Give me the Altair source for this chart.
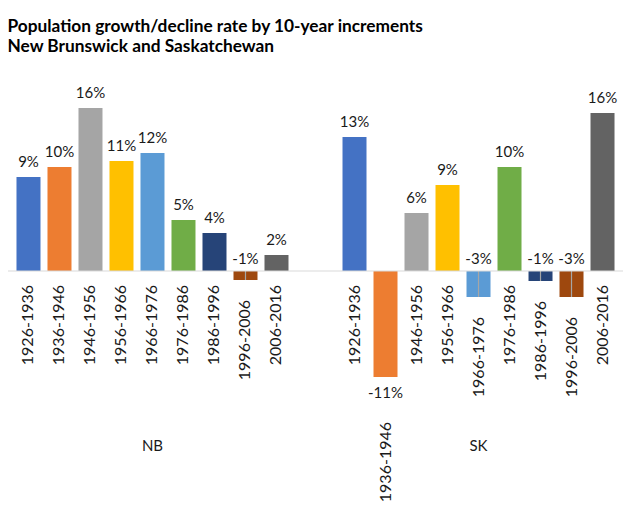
import altair as alt
import pandas as pd

periods = ["1926-1936", "1936-1946", "1946-1956", "1956-1966", "1966-1976",
           "1976-1986", "1986-1996", "1996-2006", "2006-2016"]
provinces = ["NB", "SK"]
nb_values = [9.4, 10.4, 16.3, 11.0, 11.8, 5.1, 3.8, -0.9, 1.6]
sk_values = [13.4, -10.6, 5.8, 8.6, -2.6, 10.4, -1.0, -2.6, 15.8]
colors = ["#4472C4", "#ED7D31", "#A5A5A5", "#FFC000", "#5B9BD5",
          "#70AD47", "#264478", "#9E480E", "#636363"]

rows = []
for p, vals in zip(provinces, [nb_values, sk_values]):
    for per, v in zip(periods, vals):
        rows.append({"prov": p, "period": per, "v": v})
df = pd.DataFrame(rows)

FONT = "Lato"
TXT = "#1a1a1a"

x = alt.X("prov:N", sort=provinces,
          scale=alt.Scale(paddingInner=0.1442, paddingOuter=0.0153),
          axis=alt.Axis(title=None, domain=False, ticks=False, labelAngle=0,
                        labelFont=FONT, labelFontSize=15, labelColor=TXT,
                        labelPadding=8, labelBaseline="top"))
xo = alt.XOffset("period:N", sort=periods,
                 scale=alt.Scale(paddingInner=0.2258, paddingOuter=0.1129))
yscale = alt.Scale(domain=[-15.9, 21.1], nice=False, zero=False)

base = alt.Chart(df).transform_calculate(
    label="round(datum.v) + '%'",
    low="min(0, datum.v)",
    zero="0",
)

bars = base.mark_bar().encode(
    x=x, xOffset=xo,
    y=alt.Y("v:Q", scale=yscale, axis=None),
    y2=alt.Y2("zero:Q"),
    color=alt.Color("period:N", sort=periods,
                    scale=alt.Scale(domain=periods, range=colors), legend=None),
)

leaders = base.transform_filter("datum.v < 0 && datum.v > -5").mark_rule(
    color="#A6A6A6", strokeWidth=1.2).encode(
    x=x, xOffset=xo,
    y=alt.Y("zero:Q", scale=yscale, axis=None),
    y2=alt.Y2("v:Q"),
)

val_pos = base.transform_filter("datum.v >= 0").mark_text(
    font=FONT, fontSize=15, color=TXT, baseline="alphabetic", dy=-10).encode(
    x=x, xOffset=xo, y=alt.Y("v:Q", scale=yscale, axis=None), text="label:N")

val_small_neg = base.transform_filter("datum.v < 0 && datum.v > -5").mark_text(
    font=FONT, fontSize=15, color=TXT, baseline="alphabetic", dy=-7).encode(
    x=x, xOffset=xo, y=alt.Y("zero:Q", scale=yscale, axis=None), text="label:N")

val_big_neg = base.transform_filter("datum.v <= -5").mark_text(
    font=FONT, fontSize=15, color=TXT, baseline="alphabetic", dy=21).encode(
    x=x, xOffset=xo, y=alt.Y("v:Q", scale=yscale, axis=None), text="label:N")

cat_pos = base.transform_filter("datum.v >= 0").mark_text(
    font=FONT, fontSize=16, color=TXT, angle=270, align="right",
    baseline="middle", dx=-14).encode(
    x=x, xOffset=xo, y=alt.Y("low:Q", scale=yscale, axis=None), text="period:N")

cat_small_neg = base.transform_filter("datum.v < 0 && datum.v > -5").mark_text(
    font=FONT, fontSize=16, color=TXT, angle=270, align="right",
    baseline="middle", dx=-20).encode(
    x=x, xOffset=xo, y=alt.Y("low:Q", scale=yscale, axis=None), text="period:N")

cat_big_neg = base.transform_filter("datum.v <= -5").mark_text(
    font=FONT, fontSize=16, color=TXT, angle=270, align="right",
    baseline="middle", dx=-45).encode(
    x=x, xOffset=xo, y=alt.Y("low:Q", scale=yscale, axis=None), text="period:N")

baseline = alt.Chart(pd.DataFrame({"z": [0]})).mark_rule(
    color="#D9D9D9", strokeWidth=1).encode(
    y=alt.Y("z:Q", scale=yscale, axis=None))

chart = alt.layer(
    bars, leaders, baseline, val_pos, val_small_neg, val_big_neg,
    cat_pos, cat_small_neg, cat_big_neg,
).resolve_scale(y="shared").properties(
    width=615, height=370,
    title=alt.Title(
        ["Population growth/decline rate by 10-year increments",
         "New Brunswick and Saskatchewan"],
        anchor="start", font=FONT, fontSize=17.3, fontWeight="bold",
        color="black", lineHeight=20, baseline="alphabetic", offset=-9),
    autosize=alt.AutoSizeParams(type="none"),
    padding={"left": 0, "right": 0, "top": 52, "bottom": 87},
).configure_view(strokeWidth=0)

chart.save("out.html", embed_options={"renderer": "svg", "actions": False})
